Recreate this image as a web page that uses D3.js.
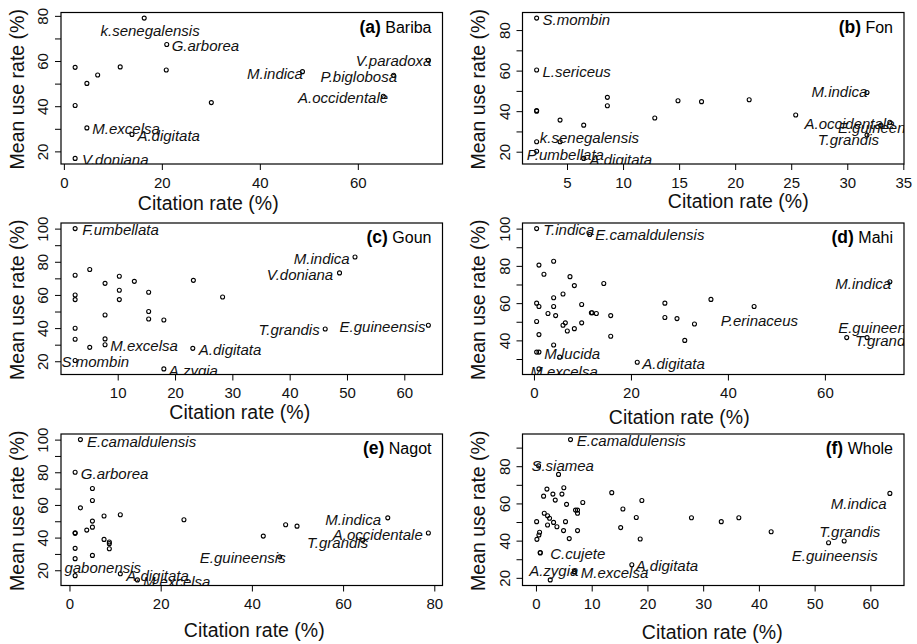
<!DOCTYPE html>
<html>
<head>
<meta charset="utf-8">
<style>
body { margin: 0; background: #fff; font-family: "Liberation Sans", Arial, Helvetica, sans-serif; }
.box { fill: none; stroke: #000; stroke-width: 1.2px; }
.pt { fill: none; stroke: #000; stroke-width: 1.1px; }
.sp { font-style: italic; font-size: 15px; fill: #111; }
.ttl { font-size: 19.5px; fill: #111; }
</style>
</head>
<body>
<script src="https://d3js.org/d3.v7.min.js"></script>
<script>

// citation rate (%), mean use rate (%) per species, one array per group
var bariba = [[16.4,79.0],[21.0,67.3],[2.3,57.2],[4.7,50.1],[6.9,53.8],[11.5,57.4],[20.9,56.0],[2.3,40.3],
  [30.1,41.6],[4.7,30.4],[13.9,27.5],[2.3,16.9],[48.7,55.3],[67.3,53.7],[65.2,44.4],[74.4,60.3]];
var baribaLabels = [["k.senegalensis",17.6,73.4],["G.arborea",28.9,66.6],["M.indica",43.1,54.3],
  ["V.paradoxa",67.3,60.1],["P.biglobosa",60.2,53.1],["A.occidentale",57.0,43.7],
  ["M.excelsa",12.7,30.0],["A.digitata",21.4,27.1],["V.doniana",10.5,16.3]];

var fon = [[2.29,85.9],[2.29,60.3],[2.29,40.3],[2.29,40.0],[4.38,35.6],[6.49,33.1],[8.6,46.8],[8.6,42.7],
  [12.83,36.6],[14.9,45.1],[17.0,44.7],[21.25,45.6],[25.4,38.1],[31.76,49.2],[33.8,34.5],[33.0,33.0],
  [31.76,28.2],[2.29,24.9],[4.38,24.9],[2.29,20.2],[6.49,16.7]];
var fonLabels = [["S.mombin",5.83,85.1],["L.sericeus",5.86,59.6],["M.indica",29.3,49.8],
  ["A.occidentale",30.2,33.6],["E.guineensis",33.0,32.0],["T.grandis",30.1,25.8],
  ["k.senegalensis",7.0,27.1],["P.umbellata",4.85,18.5],["A.digitata",9.8,16.0]];

var goun = [[2.57,100],[5.12,75.3],[2.57,71.9],[2.57,60.0],[2.57,57.2],[7.79,67.0],[10.28,71.3],[10.28,62.8],
  [10.28,57.2],[12.9,68.2],[15.4,61.6],[15.4,50.0],[15.4,45.5],[18.05,44.9],[7.79,47.9],[23.2,68.8],
  [28.3,58.8],[2.57,39.9],[2.57,33.3],[7.79,33.5],[7.79,30.0],[5.12,28.4],[2.57,20.5],[23.1,27.8],
  [18.05,15.4],[46.2,39.5],[51.4,82.9],[48.7,73.3],[64.2,41.7]];
var gounLabels = [["F.umbellata",10.5,99.4],["M.indica",45.6,81.7],["V.doniana",41.8,72.3],
  ["T.grandis",39.9,39.1],["E.guineensis",56.2,41.1],["M.excelsa",14.6,29.4],
  ["A.digitata",29.6,27.0],["S.mombin",6.1,20.0],["A.zygia",23.2,14.0]];

var mahi = [[0.55,100],[11.5,96.8],[1.03,80.4],[2.06,75.5],[4.06,82.5],[7.43,74.2],[8.33,69.4],[14.4,70.5],
  [0.55,60.0],[1.03,58.2],[4.06,62.9],[4.06,58.2],[5.99,64.9],[2.89,54.4],[4.47,53.3],[0.55,50.1],
  [5.99,48.1],[6.47,49.4],[6.88,45.0],[8.33,46.3],[9.84,59.3],[9.84,49.4],[11.84,54.8],[12.0,54.8],
  [12.87,54.4],[15.83,53.3],[15.83,42.2],[1.03,43.1],[4.06,37.5],[0.55,33.7],[1.03,33.7],[5.3,31.0],
  [1.03,24.7],[21.3,28.3],[27.0,60.0],[27.0,52.3],[29.5,51.7],[31.1,40.0],[33.1,48.8],[36.5,62.0],
  [45.4,58.2],[73.4,71.5],[64.5,41.5],[68.7,41.5]];
var mahiLabels = [["T.indica",7.2,99.5],["E.camaldulensis",23.9,96.8],["M.indica",67.9,70.6],
  ["P.erinaceus",46.5,50.8],["E.guineensis",71.6,46.8],["T.grandis",72.5,40.0],
  ["M.lucida",7.9,32.8],["M.excelsa",6.2,23.4],["A.digitata",28.8,27.4]];

var nagot = [[2.4,100],[1.24,80],[5.03,70.1],[5.03,62.7],[2.4,58.2],[7.58,53.2],[11.15,54.0],[5.03,50.1],
  [5.03,46.4],[3.79,44.6],[1.24,43.0],[1.24,42.6],[1.24,33.4],[1.24,27.1],[5.03,29.1],[7.58,38.9],
  [8.74,37.3],[8.74,36.3],[8.74,33.2],[25.1,50.9],[42.5,40.9],[47.4,47.9],[49.9,47.0],[69.8,52.1],
  [78.7,42.8],[64.3,38.3],[46.1,28.2],[1.24,16.7],[11.15,17.9],[14.9,14.1]];
var nagotLabels = [["E.camaldulensis",15.8,99.0],["G.arborea",9.9,79.0],["M.indica",62.2,51.1],
  ["A.occidentale",67.6,41.8],["T.grandis",58.8,36.9],["E.guineensis",38.0,27.5],
  ["gabonensis",7.3,21.6],["A.digitata",19.3,16.9],["M.excelsa",23.5,12.8]];

var whole = [[6.2,94.3],[0.47,80.2],[4.05,75.6],[1.97,67.7],[1.37,63.9],[3.04,65.0],[3.46,61.8],[4.66,65.0],
  [5.0,68.4],[5.49,59.5],[8.4,60.5],[1.49,54.7],[2.08,53.4],[2.44,52.0],[0.12,50.2],[0.65,44.5],
  [0.53,43.0],[0.17,40.7],[3.16,49.8],[2.08,48.4],[3.76,47.5],[5.3,50.2],[4.95,45.4],[5.97,41.1],
  [7.46,45.4],[7.1,56.4],[7.46,56.4],[7.46,54.7],[0.77,33.6],[0.77,33.4],[13.6,65.8],[15.6,57.0],
  [15.2,47.0],[18.0,52.4],[19.0,61.6],[18.7,40.9],[6.9,23.4],[6.9,23.2],[17.2,27.0],[2.56,18.9],
  [27.9,52.3],[33.25,50.2],[36.4,52.3],[42.2,44.8],[52.5,38.9],[55.3,39.8],[63.5,65.4]];
var wholeLabels = [["E.camaldulensis",17.1,93.6],["S.siamea",4.8,80],["C.cujete",7.5,33.2],
  ["A.zygia",3.2,23.75],["M.excelsa",14.1,22.5],["A.digitata",23.5,26.4],["M.indica",57.9,59.6],
  ["T.grandis",56.3,44.8],["E.guineensis",53.6,31.8]];

var tags = ["(a)","(b)","(c)","(d)","(e)","(f)"];
var groups = ["Bariba","Fon","Goun","Mahi","Nagot","Whole"];
var xTicks = [[0,20,40,60],[5,10,15,20,25,30,35],[10,20,30,40,50,60],[0,20,40,60],[0,20,40,60,80],[0,10,20,30,40,50,60]];
var yTicks = [[20,30,40,50,60,70,80],[20,30,40,50,60,70,80],[20,30,40,50,60,70,80,90,100],
  [30,40,50,60,70,80,90,100],[20,30,40,50,60,70,80,90,100],[20,30,40,50,60,70,80,90]];
var yTickLabels = [[20,40,60,80],[20,40,60,80],[20,40,60,80,100],[40,60,80,100],[20,40,60,80,100],[20,40,60,80]];

var panels = [
  {pts: bariba, labels: baribaLabels},
  {pts: fon, labels: fonLabels},
  {pts: goun, labels: gounLabels},
  {pts: mahi, labels: mahiLabels},
  {pts: nagot, labels: nagotLabels},
  {pts: whole, labels: wholeLabels}
];

// layout
var colLeft = [61, 522.5], rowTop = [12.5, 223, 434], pw = 381.5, ph = 151.5;
var xTitleOff = [[-43.5,38.7],[25,36.7],[-12,37.7],[-34,42.7],[2.5,45],[-1,46.3]];

var svg = d3.select("body").append("svg")
    .attr("width", 917)
    .attr("height", 644);

panels.forEach(function(p, i) {
  var left = colLeft[i % 2], top = rowTop[Math.floor(i / 2)];

  // R style domain: data range extended by 4% each side
  var xe = d3.extent(p.pts, function(d) { return d[0]; }),
      ye = d3.extent(p.pts, function(d) { return d[1]; });
  var xp = (xe[1] - xe[0]) * 0.04, yp = (ye[1] - ye[0]) * 0.04;
  var x = d3.scaleLinear().domain([xe[0] - xp, xe[1] + xp]).range([0, pw]);
  var y = d3.scaleLinear().domain([ye[0] - yp, ye[1] + yp]).range([ph, 0]);

  var g = svg.append("g").attr("transform", "translate(" + left + "," + top + ")");

  g.append("clipPath").attr("id", "clip" + i)
    .append("rect").attr("width", pw).attr("height", ph);

  var plot = g.append("g").attr("clip-path", "url(#clip" + i + ")");

  plot.selectAll("circle")
      .data(p.pts)
    .enter().append("circle")
      .attr("class", "pt")
      .attr("cx", function(d) { return x(d[0]); })
      .attr("cy", function(d) { return y(d[1]); })
      .attr("r", 2);

  plot.selectAll("text")
      .data(p.labels)
    .enter().append("text")
      .attr("class", "sp")
      .attr("x", function(d) { return x(d[1]); })
      .attr("y", function(d) { return y(d[2]); })
      .attr("dy", "0.35em")
      .attr("text-anchor", "middle")
      .text(function(d) { return d[0]; });

  // x axis
  var xa = g.append("g")
      .attr("transform", "translate(0," + ph + ")")
      .call(d3.axisBottom(x).tickValues(xTicks[i]).tickSize(6).tickSizeOuter(0).tickPadding(7));
  xa.select(".domain").remove();
  xa.selectAll("text").attr("font-size", 15).attr("font-family", null).attr("fill", "#111");

  // y axis, labels parallel to the axis
  var ya = g.append("g")
      .call(d3.axisLeft(y).tickValues(yTicks[i]).tickSize(6).tickSizeOuter(0)
        .tickFormat(function(d) { return yTickLabels[i].indexOf(d) >= 0 ? d : ""; }));
  ya.select(".domain").remove();
  ya.selectAll("text")
      .attr("x", 0).attr("y", 0).attr("dy", "0.35em")
      .attr("text-anchor", "middle")
      .attr("transform", "translate(-18,0) rotate(-90)")
      .attr("font-size", 15).attr("font-family", null).attr("fill", "#111");

  g.append("rect").attr("class", "box").attr("width", pw).attr("height", ph);

  // group tag
  var tg = g.append("text")
      .attr("x", pw - 11).attr("y", 14.5).attr("dy", "0.35em")
      .attr("text-anchor", "end");
  tg.append("tspan").attr("font-weight", "bold").attr("font-size", 17.5).text(tags[i]);
  tg.append("tspan").attr("font-size", 16).text(" " + groups[i]);

  // axis titles
  g.append("text").attr("class", "ttl")
      .attr("x", pw / 2 + xTitleOff[i][0]).attr("y", ph + xTitleOff[i][1])
      .attr("dy", "0.35em").attr("text-anchor", "middle")
      .text("Citation rate (%)");

  g.append("text").attr("class", "ttl")
      .attr("transform", "translate(-44," + (ph / 2 + 1) + ") rotate(-90)")
      .attr("dy", "0.35em").attr("text-anchor", "middle")
      .text("Mean use rate (%)");
});

</script>
</body>
</html>
